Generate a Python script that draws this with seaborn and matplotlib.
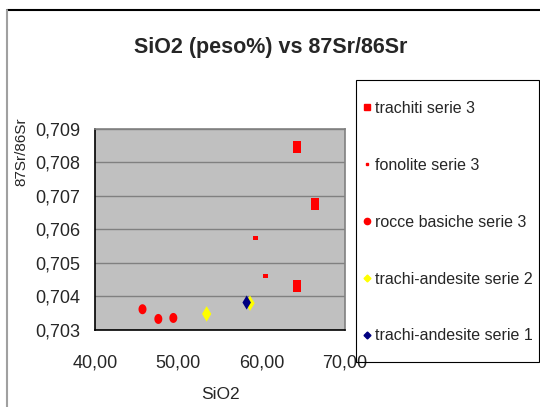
import numpy as np
import pandas as pd
import matplotlib
matplotlib.use("Agg")
import matplotlib.pyplot as plt
import seaborn as sns
from matplotlib.lines import Line2D
from matplotlib.patches import Rectangle
from matplotlib.path import Path
from matplotlib.ticker import FuncFormatter, MultipleLocator

# data
trachiti_x = [64.2, 66.4, 64.2]
trachiti_y = [0.70845, 0.70677, 0.70432]
fonolite_x = [59.2, 60.5]
fonolite_y = [0.70575, 0.70461]
basiche_x = [45.7, 47.6, 49.4]
basiche_y = [0.70362, 0.70333, 0.70336]
andes2_x = [53.4, 58.6]
andes2_y = [0.70348, 0.70380]
andes1_x = [58.2]
andes1_y = [0.70382]

labels = ["trachiti serie 3", "fonolite serie 3", "rocce basiche serie 3",
          "trachi-andesite serie 2", "trachi-andesite serie 1"]

sns.set_style("white")
plt.rcParams["font.family"] = ["Liberation Sans", "DejaVu Sans"]

# tall (stretched) marker shapes like the excel export
tall_rect = Path([(-2, -3), (2, -3), (2, 3), (-2, 3), (-2, -3)],
                 [Path.MOVETO, Path.LINETO, Path.LINETO, Path.LINETO, Path.CLOSEPOLY])
t = np.linspace(0, 2 * np.pi, 40)
ellipse = Path(np.column_stack([0.8 * np.cos(t), np.sin(t)]))
wide_rect = Path([(-3, -2), (3, -2), (3, 2), (-3, 2), (-3, -2)],
                 [Path.MOVETO, Path.LINETO, Path.LINETO, Path.LINETO, Path.CLOSEPOLY])

series = [
    (trachiti_x, trachiti_y, tall_rect, 12, "#FF0000"),
    (fonolite_x, fonolite_y, wide_rect, 5, "#FF0000"),
    (basiche_x, basiche_y, ellipse, 10, "#FF0000"),
    (andes2_x, andes2_y, "d", 11, "#FFFF00"),
    (andes1_x, andes1_y, "d", 10, "#000080"),
]

fig = plt.figure(figsize=(5.4, 4.07), dpi=100)
ax = fig.add_axes([95 / 540, 1 - 330 / 407, 250 / 540, 201 / 407])
ax.set_facecolor("#C0C0C0")

for (xs, ys, mk, px, col), lab in zip(series, labels):
    df = pd.DataFrame({"x": xs, "y": ys})
    s = (px * 72 / 100) ** 2
    sns.scatterplot(data=df, x="x", y="y", marker=mk, s=s, color=col,
                    edgecolor="none", linewidth=0, ax=ax, legend=False, zorder=3)

ax.set_xlim(40, 70)
ax.set_ylim(0.703, 0.709)
ax.xaxis.set_major_locator(MultipleLocator(10))
ax.yaxis.set_major_locator(MultipleLocator(0.001))
ax.xaxis.set_major_formatter(FuncFormatter(lambda v, p: f"{v:.2f}".replace(".", ",")))
ax.yaxis.set_major_formatter(FuncFormatter(lambda v, p: f"{v:.3f}".replace(".", ",")))
ax.tick_params(axis="both", direction="inout", length=5, width=1, color="black",
               labelsize=13, pad=8)
ax.tick_params(axis="x", pad=15)
ax.yaxis.grid(True, color="#808080", linewidth=1)
ax.set_axisbelow(True)
for side in ["left", "bottom"]:
    ax.spines[side].set_color("black")
    ax.spines[side].set_linewidth(1.2)
for side in ["top", "right"]:
    ax.spines[side].set_color("#808080")
    ax.spines[side].set_linewidth(1.2)

ax.set_xlabel("SiO2", fontsize=12.5, labelpad=11)
ax.set_ylabel("87Sr/86Sr", fontsize=11)
ax.yaxis.set_label_coords(-0.265, 0.885)

fig.text(271 / 540, 1 - 47 / 407, "SiO2 (peso%) vs 87Sr/86Sr", ha="center", va="center",
         fontsize=15.5, fontweight="bold")

# legend with its own frame
handles = [
    Line2D([], [], ls="none", marker="s", markersize=4, color="#FF0000"),
    Line2D([], [], ls="none", marker="s", markersize=2, color="#FF0000"),
    Line2D([], [], ls="none", marker="o", markersize=4.5, color="#FF0000"),
    Line2D([], [], ls="none", marker="D", markersize=3.5, color="#FFFF00"),
    Line2D([], [], ls="none", marker="D", markersize=3.5, color="#000080"),
]
fig.legend(handles, labels, loc="upper left", bbox_to_anchor=(362 / 540, 1 - 101 / 407),
           frameon=False, fontsize=11.5, handlelength=0.6, handletextpad=0.2,
           labelspacing=2.62, borderpad=0, borderaxespad=0)
fig.add_artist(Rectangle((356 / 540, 1 - 362 / 407), 183 / 540, 282 / 407,
                         transform=fig.transFigure, fill=False, edgecolor="black",
                         linewidth=0.8))

# chart outer border
fig.add_artist(Line2D([7 / 540, 1], [1 - 10 / 407] * 2, transform=fig.transFigure,
                      color="black", linewidth=1.5))
fig.add_artist(Line2D([7 / 540] * 2, [0, 1 - 10 / 407], transform=fig.transFigure,
                      color="#A0A0A0", linewidth=1.5))

fig.savefig("out.png", dpi=100)
